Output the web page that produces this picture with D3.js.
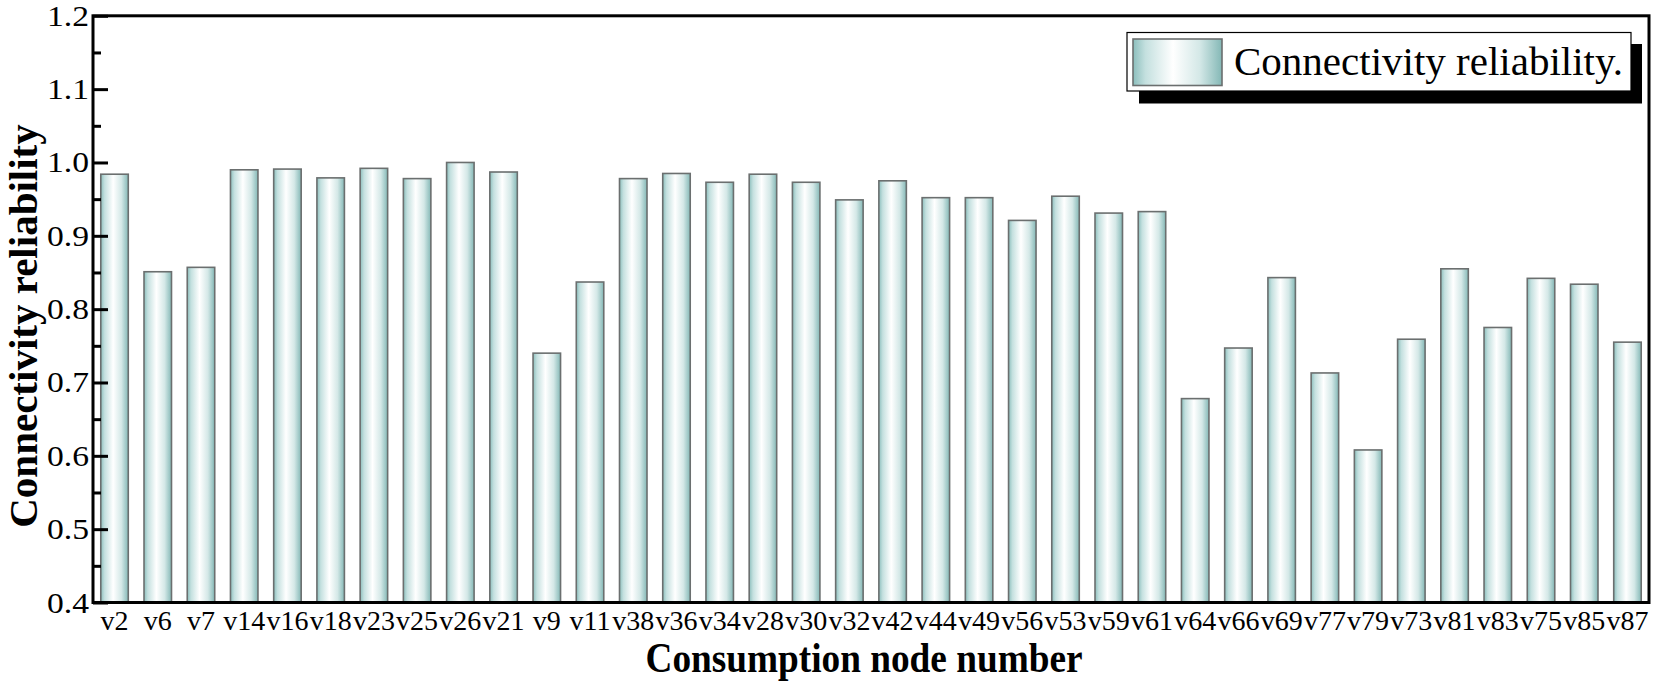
<!DOCTYPE html>
<html>
<head>
<meta charset="utf-8">
<script src="https://cdn.jsdelivr.net/npm/d3@7"></script>
<style>
  html, body { margin: 0; padding: 0; background: #fff; }
  svg { display: block; }
  text { font-family: "Liberation Serif", "Times New Roman", serif; fill: #000; }
</style>
</head>
<body>
<svg id="chart" width="1654" height="687"></svg>
<script>
const categories = ["v2","v6","v7","v14","v16","v18","v23","v25","v26","v21","v9","v11",
  "v38","v36","v34","v28","v30","v32","v42","v44","v49","v56","v53","v59","v61",
  "v64","v66","v69","v77","v79","v73","v81","v83","v75","v85","v87"];
const values = [0.984,0.851,0.857,0.990,0.991,0.979,0.992,0.978,1.000,0.987,0.740,0.837,
  0.978,0.985,0.973,0.984,0.973,0.949,0.975,0.952,0.952,0.921,0.954,0.931,0.933,
  0.678,0.747,0.843,0.713,0.608,0.759,0.855,0.775,0.842,0.834,0.755];
const yTicks = [0.4,0.5,0.6,0.7,0.8,0.9,1.0,1.1,1.2];
const yMinorTicks = [0.45,0.55,0.65,0.75,0.85,0.95,1.05,1.15];
const seriesName = "Connectivity reliability.";
const xTitle = "Consumption node number";
const yTitle = "Connectivity reliability";

const svg = d3.select("#chart");
const L = 93, R = 1649, T = 15.8, B = 602.5;

const x = d3.scaleBand().domain(categories).range([L, R]).paddingInner(0.364).paddingOuter(0.18);
const y = d3.scaleLinear().domain([0.4, 1.2]).range([B, T]);

const defs = svg.append("defs");
const grad = defs.append("linearGradient").attr("id", "barGrad")
  .attr("x1", "0%").attr("x2", "100%").attr("y1", "0%").attr("y2", "0%");
[[0, "#8cbfbd"], [0.14, "#c4e0df"], [0.45, "#ffffff"], [0.75, "#d4e8e7"], [1, "#84b8b6"]]
  .forEach(([o, c]) => grad.append("stop").attr("offset", o).attr("stop-color", c));

// bars
svg.append("g").selectAll("rect").data(values).join("rect")
  .attr("x", (d, i) => x(categories[i]))
  .attr("y", d => y(d))
  .attr("width", x.bandwidth())
  .attr("height", d => y(0.4) - y(d))
  .attr("fill", "url(#barGrad)")
  .attr("stroke", "#6b6f6f")
  .attr("stroke-width", 1.6);

// frame
svg.append("rect").attr("x", L).attr("y", T).attr("width", R - L).attr("height", B - T)
  .attr("fill", "none").attr("stroke", "#000").attr("stroke-width", 3);

// y axis ticks (inward)
const yAxis = d3.axisRight(y).tickValues(yTicks).tickSize(15).tickFormat("");
const gy = svg.append("g").attr("transform", `translate(${L},0)`).call(yAxis);
gy.select(".domain").remove();
gy.selectAll("line").attr("stroke", "#000").attr("stroke-width", 3);
const yMinor = d3.axisRight(y).tickValues(yMinorTicks).tickSize(8).tickFormat("");
const gym = svg.append("g").attr("transform", `translate(${L},0)`).call(yMinor);
gym.select(".domain").remove();
gym.selectAll("line").attr("stroke", "#000").attr("stroke-width", 3);

// y tick labels
svg.append("g").selectAll("text").data(yTicks).join("text")
  .attr("x", 89).attr("y", d => y(d) + 10)
  .attr("text-anchor", "end")
  .attr("font-size", 29)
  .attr("textLength", 42).attr("lengthAdjust", "spacingAndGlyphs")
  .text(d => d3.format(".1f")(d));

// x tick labels
const xAxis = d3.axisBottom(x).tickSize(0).tickPadding(0);
const gx = svg.append("g").attr("transform", `translate(0,${B})`).call(xAxis);
gx.select(".domain").remove();
gx.selectAll("text")
  .attr("y", 27).attr("dy", 0)
  .attr("font-size", 28)
  .attr("font-family", "Liberation Serif, Times New Roman, serif")
  .attr("fill", "#000");

// axis titles
svg.append("text")
  .attr("x", 864).attr("y", 672)
  .attr("text-anchor", "middle")
  .attr("font-size", 42).attr("font-weight", "bold")
  .attr("textLength", 437).attr("lengthAdjust", "spacingAndGlyphs")
  .text(xTitle);

svg.append("text")
  .attr("transform", "translate(37,326) rotate(-90)")
  .attr("text-anchor", "middle")
  .attr("font-size", 41).attr("font-weight", "bold")
  .text(yTitle);

// legend
const lg = svg.append("g");
lg.append("rect").attr("x", 1139).attr("y", 44).attr("width", 503).attr("height", 59.5).attr("fill", "#000");
lg.append("rect").attr("x", 1127).attr("y", 32.5).attr("width", 504).attr("height", 58.5)
  .attr("fill", "#fff").attr("stroke", "#000").attr("stroke-width", 1.2);
lg.append("rect").attr("x", 1133).attr("y", 39).attr("width", 89).attr("height", 46.5)
  .attr("fill", "url(#barGrad)").attr("stroke", "#6b6f6f").attr("stroke-width", 1.6);
lg.append("text").attr("x", 1234).attr("y", 75)
  .attr("font-size", 41)
  .text(seriesName);
</script>
</body>
</html>
